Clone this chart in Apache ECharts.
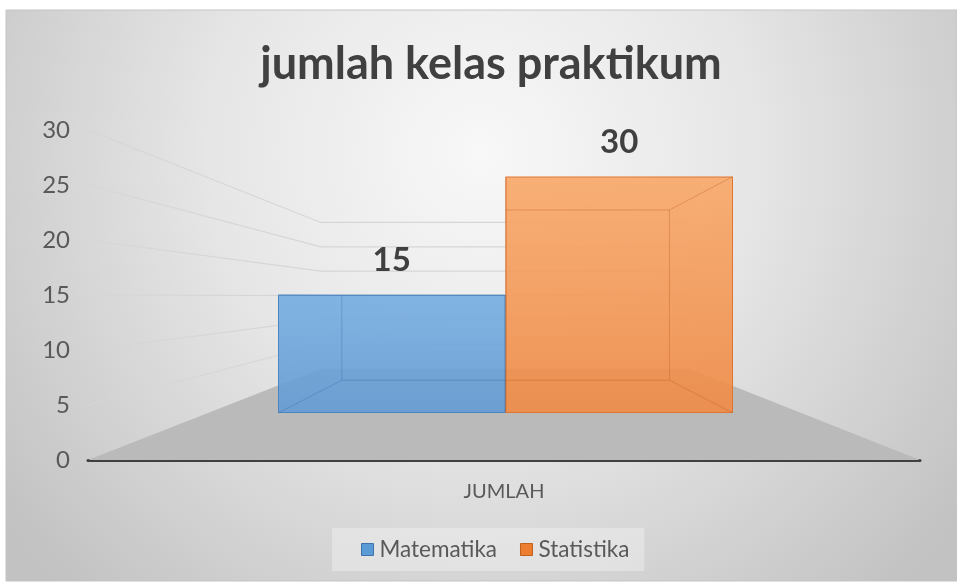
<!DOCTYPE html>
<html><head><meta charset="utf-8">
<script src="https://cdn.jsdelivr.net/npm/echarts@6/dist/echarts.min.js"></script>
<style>html,body{margin:0;padding:0;background:#fff}#c{width:957px;height:583px}</style>
</head><body><div id="c"></div>
<script>
// ---- data ----
const titleText = 'jumlah kelas praktikum';
const categories = ['JUMLAH'];
const seriesNames = ['Matematika', 'Statistika'];
const matematika = [15];
const statistika = [30];
const valueTicks = [0, 5, 10, 15, 20, 25, 30];

// ---- layout / perspective constants ----
const FONT = 'Lato, "Open Sans", sans-serif';
const VP = [506, 296];      // vanishing point of the 3D view
const K_WALL = 0.443;       // depth factor of back wall vs. front plane
const K_BAR = 0.72;         // depth factor of bar back face vs. bar front face
function proj(p, k) { return [VP[0] + k * (p[0] - VP[0]), VP[1] + k * (p[1] - VP[1])]; }

const yMin = valueTicks[0];
const yMax = valueTicks[valueTicks.length - 1];
const yStep = valueTicks[1] - valueTicks[0];

const barColors = [
  { top: 'rgba(118,173,225,0.9)', bottom: 'rgba(100,155,212,0.9)', border: '#4a86c2', edge: 'rgba(55,105,165,0.35)', legend: '#5b9bd5', legendBorder: '#3f72a8' },
  { top: 'rgba(248,168,104,0.9)', bottom: 'rgba(240,138,70,0.9)', border: '#df7630', edge: 'rgba(185,90,30,0.35)', legend: '#ed7d31', legendBorder: '#c0611f' }
];
const seriesValues = [matematika, statistika];

const chart = echarts.init(document.getElementById('c'));

const barSeries = seriesNames.map((name, i) => ({
  name: name,
  type: 'bar',
  xAxisIndex: 1, yAxisIndex: 1,
  data: seriesValues[i],
  barGap: '0%',
  barCategoryGap: '0%',
  z: 5,
  itemStyle: {
    color: new echarts.graphic.LinearGradient(0, 0, 0, 1, [
      { offset: 0, color: barColors[i].top }, { offset: 1, color: barColors[i].bottom }]),
    borderColor: barColors[i].border, borderWidth: 1
  },
  label: {
    show: true, position: 'top', distance: 18,
    fontFamily: FONT, fontWeight: 'bold', fontSize: 33, color: '#404040'
  }
}));

const depthData = [];
seriesValues.forEach((arr, i) => arr.forEach((v, ci) => depthData.push([ci, v, i])));

const option = {
  animation: false,
  backgroundColor: '#ffffff',
  graphic: [{
    type: 'rect', z: -100, silent: true,
    shape: { x: 6, y: 10, width: 951, height: 571 },
    style: {
      fill: new echarts.graphic.RadialGradient(0.5, 0.25, 1.05, [
        { offset: 0, color: '#f8f8f8' }, { offset: 0.45, color: '#e6e6e6' }, { offset: 1, color: '#c2c2c2' }]),
      stroke: '#c4c4c4', lineWidth: 1
    }
  }],
  title: {
    text: titleText, left: 486, top: 37, textAlign: 'center',
    textStyle: { fontFamily: FONT, fontWeight: 'bold', fontSize: 45, color: '#404040' }
  },
  legend: {
    data: seriesNames.map((n, i) => ({ name: n, itemStyle: { color: barColors[i].legend, borderColor: barColors[i].legendBorder, borderWidth: 1 } })),
    left: 332, top: 528,
    padding: [10, 15, 10, 29],
    backgroundColor: 'rgba(245,245,245,0.4)',
    icon: 'rect', itemWidth: 12, itemHeight: 12, itemGap: 23,
    textStyle: { fontFamily: FONT, fontSize: 22.5, color: '#595959', padding: [0, 0, 0, 1] }
  },
  grid: [
    { left: 88, right: 37, top: 130, bottom: 123 },
    { left: 278, right: 224, top: 176.5, bottom: 170 }
  ],
  xAxis: [
    { type: 'category', gridIndex: 0, data: categories,
      axisLine: { show: true, lineStyle: { color: '#404040', width: 3 } },
      axisTick: { show: false },
      axisLabel: { fontFamily: FONT, fontSize: 20, color: '#595959', margin: 22 } },
    { type: 'category', gridIndex: 1, data: categories, show: false }
  ],
  yAxis: [
    { type: 'value', gridIndex: 0, min: yMin, max: yMax, interval: yStep,
      axisLine: { show: false }, axisTick: { show: false }, splitLine: { show: false },
      axisLabel: { fontFamily: FONT, fontSize: 24, color: '#595959', margin: 18 } },
    { type: 'value', gridIndex: 1, min: yMin, max: yMax, interval: yStep, show: false, splitLine: { show: false } }
  ],
  series: [
    { // floor
      type: 'custom', xAxisIndex: 0, yAxisIndex: 0, z: 1, silent: true,
      data: [[0, yMin]],
      renderItem: function (params, api) {
        const c = api.coord([api.value(0), api.value(1)]);
        const band = api.size([1, 0])[0];
        const fl = [c[0] - band / 2, c[1]], fr = [c[0] + band / 2, c[1]];
        return { type: 'polygon', shape: { points: [fl, fr, proj(fr, K_WALL), proj(fl, K_WALL)] },
          style: { fill: '#bababa' } };
      }
    },
    { // wall gridlines
      type: 'custom', xAxisIndex: 0, yAxisIndex: 0, z: 2, silent: true,
      data: valueTicks.filter(v => v > yMin).map(v => [0, v]),
      renderItem: function (params, api) {
        const c = api.coord([api.value(0), api.value(1)]);
        const band = api.size([1, 0])[0];
        const fl = [c[0] - band / 2, c[1]], fr = [c[0] + band / 2, c[1]];
        return { type: 'polyline', shape: { points: [fl, proj(fl, K_WALL), proj(fr, K_WALL)] },
          style: { stroke: '#d6d6d6', lineWidth: 1.2, fill: null } };
      }
    },
    ...barSeries,
    { // bar depth edges
      type: 'custom', xAxisIndex: 1, yAxisIndex: 1, z: 6, silent: true,
      data: depthData,
      renderItem: function (params, api) {
        const base = api.coord([api.value(0), yMin]);
        const top = api.coord([api.value(0), api.value(1)])[1];
        const half = api.size([1, 0])[0] / 2;
        const side = api.value(2);
        const x0 = side === 0 ? base[0] - half : base[0];
        const x1 = x0 + half;
        const F = [[x0, top], [x1, top], [x1, base[1]], [x0, base[1]]];
        const B = F.map(p => proj(p, K_BAR));
        const col = barColors[side].edge;
        const children = [{ type: 'polygon', shape: { points: B }, style: { fill: null, stroke: col, lineWidth: 1 } }];
        for (let j = 0; j < 4; j++) {
          children.push({ type: 'line', shape: { x1: F[j][0], y1: F[j][1], x2: B[j][0], y2: B[j][1] },
            style: { stroke: col, lineWidth: 1 } });
        }
        return { type: 'group', children: children };
      }
    }
  ]
};
chart.setOption(option);
</script></body></html>
